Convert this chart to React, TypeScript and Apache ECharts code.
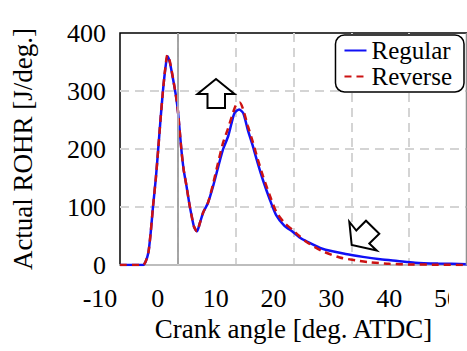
import React, { useEffect, useRef } from "react";
import * as echarts from "echarts";

const regularX = [-10, -6, -5.6, -5.1, -4.7, -4.3, -3.8, -3.4, -3.0, -2.6, -2.2, -1.8, -1.4, -0.8, -0.3, 0.05, 0.6, 1.0, 1.5, 2.0, 2.4, 2.8, 3.3, 3.8, 4.4, 5.2, 6.1, 7.0, 7.8, 8.7, 9.3, 9.8, 10.6, 11.3, 12.1, 13.0, 13.8, 14.7, 15.9, 17.0, 18.4, 19.9, 21.0, 22.2, 25, 29, 32, 35, 38, 41, 45, 50];
const regularY = [0, 0, 5, 21, 55, 100, 150, 199, 250, 297, 335, 360, 350, 319, 290, 262, 200, 165, 136, 105, 84, 66, 58, 72, 91, 107, 136, 170, 199, 222, 245, 262, 268, 262, 233, 204, 176, 147, 113, 86, 68, 57, 48, 41, 28, 19, 14, 10, 7, 4, 2.5, 1.5];

const reverseX = [-10, -6, -5.6, -5.1, -4.7, -4.3, -3.8, -3.4, -3.0, -2.6, -2.2, -1.8, -1.4, -0.8, -0.3, 0.05, 0.6, 1.0, 1.5, 2.0, 2.4, 2.8, 3.3, 3.8, 4.4, 5.2, 6.1, 7.0, 7.8, 8.7, 9.3, 9.8, 10.2, 10.7, 11.3, 12.1, 13.0, 13.8, 14.7, 15.9, 17.0, 18.4, 19.9, 21.0, 22.2, 25, 28, 30.8, 33, 36.6, 40, 45, 50];
const reverseY = [0, 0, 5, 21, 55, 100, 150, 199, 250, 297, 337, 362, 352, 320, 290, 262, 200, 165, 136, 105, 84, 66, 58, 72, 91, 107, 140, 178, 210, 236, 255, 270, 278, 280, 268, 240, 211, 183, 154, 120, 92, 73, 60, 50, 40, 24, 13, 8, 5, 2, 1, 0.5, 0];

const xTicks = { min: -10, max: 50, interval: 10 };
const yTicks = { min: 0, max: 400, interval: 100 };
const seriesNames = ["Regular", "Reverse"];

const FONT = "Liberation Serif";

export default function App() {
  const ref = useRef<HTMLDivElement>(null);
  useEffect(() => {
    const chart = echarts.init(ref.current!, null, { renderer: "svg" });
    const zip = (xs: number[], ys: number[]) => xs.map((x, i) => [x, ys[i]]);
    const split = { show: true, showMinLine: false, showMaxLine: false, lineStyle: { color: "#d4d4d4", width: 2, type: [9, 6] as any } };
    chart.setOption({
      animation: false,
      textStyle: { fontFamily: FONT },
      grid: { left: 120, top: 33, width: 348, height: 232, show: true, borderColor: "#000", borderWidth: 1.5, backgroundColor: "transparent" },
      legend: {
        data: seriesNames,
        orient: "vertical",
        right: 3,
        top: 35,
        padding: [3, 12, 3, 8],
        itemGap: 1,
        itemWidth: 22,
        itemHeight: 14,
        itemStyle: { opacity: 0 },
        borderColor: "#000",
        borderWidth: 1.5,
        borderRadius: 9,
        backgroundColor: "#fff",
        textStyle: { fontFamily: FONT, fontSize: 25, color: "#000", lineHeight: 25 },
        z: 20,
      },
      xAxis: {
        type: "value",
        min: xTicks.min,
        max: xTicks.max,
        interval: xTicks.interval,
        name: "Crank angle [deg. ATDC]",
        nameLocation: "middle",
        nameGap: 50,
        nameTextStyle: { fontFamily: FONT, fontSize: 27, color: "#000" },
        axisLine: { show: true, onZero: false, lineStyle: { color: "#bdbdbd", width: 2 } },
        axisTick: { show: false },
        axisLabel: { fontFamily: FONT, fontSize: 26, color: "#000", margin: 20, padding: [0, 40, 0, 0], showMaxLabel: true, showMinLabel: true },
        splitLine: split,
      },
      yAxis: {
        type: "value",
        min: yTicks.min,
        max: yTicks.max,
        interval: yTicks.interval,
        name: "Actual ROHR [J/deg.]",
        nameLocation: "middle",
        nameGap: 84,
        nameTextStyle: { fontFamily: FONT, fontSize: 27, color: "#000" },
        axisLine: { show: true, lineStyle: { color: "#000", width: 1.5 } },
        axisTick: { show: false },
        axisLabel: { fontFamily: FONT, fontSize: 26, color: "#000", margin: 14 },
        splitLine: split,
      },
      series: [
        {
          name: "tdc",
          type: "line",
          data: [],
          silent: true,
          z: 1,
          markLine: {
            silent: true,
            symbol: ["none", "none"],
            label: { show: false },
            lineStyle: { color: "#c8c8c8", width: 1.5, type: "solid" },
            data: [{ xAxis: 0 }],
          },
        },
        {
          name: seriesNames[0],
          type: "line",
          data: zip(regularX, regularY),
          symbol: "none",
          smooth: 0.25,
          z: 3,
          lineStyle: { color: "#1010f5", width: 2.5 },
          itemStyle: { color: "#1010f5" },
        },
        {
          name: seriesNames[1],
          type: "line",
          data: zip(reverseX, reverseY),
          symbol: "none",
          smooth: 0.25,
          z: 4,
          lineStyle: { color: "#cc1212", width: 2.5, type: [7, 5] as any },
          itemStyle: { color: "#cc1212" },
        },
      ],
      graphic: [
        {
          type: "polygon",
          z: 30,
          shape: { points: [[216, 79], [234.5, 94], [225, 94], [225, 108], [207.5, 108], [207.5, 94], [197.5, 94]] },
          style: { fill: "#fff", stroke: "#000", lineWidth: 2 },
        },
        {
          type: "polygon",
          z: 30,
          shape: { points: [[351.7, 245], [349.3, 221.7], [356.3, 230.5], [366, 220.7], [379.3, 233.8], [369.3, 243.5], [376.7, 250.5]] },
          style: { fill: "#fff", stroke: "#000", lineWidth: 2 },
        },
        {
          type: "line",
          z: 30,
          shape: { x1: 466.3, y1: 33, x2: 466.3, y2: 265 },
          style: { stroke: "#9a9a9a", lineWidth: 1.2 },
        },
        {
          type: "rect",
          z: 30,
          shape: { x: 449, y: 282, width: 20, height: 38 },
          style: { fill: "#fff" },
        },
      ],
    });
    return () => chart.dispose();
  }, []);
  return <div ref={ref} style={{ width: 467, height: 351, position: "absolute", left: 0, top: 0 }} />;
}
